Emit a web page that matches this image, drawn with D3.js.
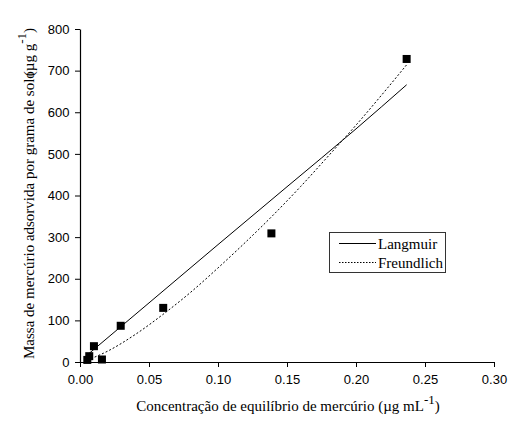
<!DOCTYPE html>
<html>
<head>
<meta charset="utf-8">
<script src="https://cdn.jsdelivr.net/npm/d3@7"></script>
<style>
  body { margin: 0; background: #fff; }
  svg { display: block; }
  .tick-label { font-family: "Liberation Sans", Arial, sans-serif; font-size: 13px; fill: #000; }
  .title { font-family: "Liberation Serif", "Times New Roman", serif; font-size: 15px; fill: #000; }
</style>
</head>
<body>
<svg id="chart" width="516" height="423"></svg>
<script>
// Measured isotherm points (concentration, adsorbed mass)
var concData = [0.0053, 0.0067, 0.0101, 0.0159, 0.0295, 0.0603, 0.1387, 0.2367];
var massData = [5, 14, 38, 6, 87, 130, 309, 728];

// Langmuir fit curve
var langmuirC = [0.0053, 0.05, 0.10, 0.15, 0.20, 0.2367];
var langmuirQ = [17, 142, 282, 421, 560, 666];

// Freundlich fit curve
var freundlichC = [0.0053, 0.02, 0.04, 0.06, 0.08, 0.10, 0.12, 0.14, 0.16, 0.18, 0.20, 0.22, 0.2367];
var freundlichQ = [4.5, 26, 66, 114, 167, 226, 288, 353, 422, 495, 569, 647, 714];

var xTicks = [0, 0.05, 0.10, 0.15, 0.20, 0.25, 0.30];
var yTicks = [0, 100, 200, 300, 400, 500, 600, 700, 800];

var svg = d3.select("#chart");

var x = d3.scaleLinear().domain([0, 0.30]).range([80, 494]);
var y = d3.scaleLinear().domain([0, 800]).range([362, 29]);

// Axes: major ticks labelled, minor ticks halfway between
var xMinor = d3.range(0.025, 0.30, 0.05);
var yMinor = d3.range(50, 800, 100);

var gx = svg.append("g").attr("transform", "translate(0," + y(0) + ")");
gx.call(d3.axisBottom(x).tickValues(xMinor).tickSize(3).tickFormat(""));
gx.call(d3.axisBottom(x).tickValues(xTicks).tickSize(5).tickSizeOuter(0).tickFormat(d3.format(".2f")));

var gy = svg.append("g").attr("transform", "translate(" + x(0) + ",0)");
gy.call(d3.axisLeft(y).tickValues(yMinor).tickSize(3).tickFormat(""));
gy.call(d3.axisLeft(y).tickValues(yTicks).tickSize(5).tickSizeOuter(0).tickFormat(d3.format("d")));

svg.selectAll(".domain").attr("stroke", "#000").attr("stroke-width", 1.2);
svg.selectAll(".tick line").attr("stroke", "#000");
svg.selectAll(".tick text").attr("class", "tick-label").attr("font-size", null).attr("font-family", null);
gx.selectAll(".tick text").attr("dy", "1.05em");
gy.selectAll(".tick text").attr("dx", "-0.2em");

// Fitted curves
var line = d3.line()
  .x(function (d) { return x(d[0]); })
  .y(function (d) { return y(d[1]); })
  .curve(d3.curveMonotoneX);

svg.append("path")
  .datum(d3.zip(langmuirC, langmuirQ))
  .attr("d", line)
  .attr("fill", "none")
  .attr("stroke", "#000")
  .attr("stroke-width", 1);

svg.append("path")
  .datum(d3.zip(freundlichC, freundlichQ))
  .attr("d", line)
  .attr("fill", "none")
  .attr("stroke", "#000")
  .attr("stroke-width", 1)
  .attr("stroke-dasharray", "2,2");

// Data points as filled squares
var sq = 8;
svg.append("g").selectAll("rect")
  .data(d3.zip(concData, massData))
  .join("rect")
  .attr("x", function (d) { return x(d[0]) - sq / 2; })
  .attr("y", function (d) { return y(d[1]) - sq / 2; })
  .attr("width", sq)
  .attr("height", sq)
  .attr("fill", "#000");

// Axis titles
var xt = svg.append("text")
  .attr("class", "title")
  .attr("x", 288)
  .attr("y", 411)
  .attr("text-anchor", "middle");
xt.append("tspan").text("Concentração de equilíbrio de mercúrio (µg mL");
xt.append("tspan").attr("dy", -7).attr("font-size", 13).text("-1");
xt.append("tspan").attr("dy", 7).text(")");

var yt = svg.append("text")
  .attr("class", "title")
  .attr("transform", "translate(34,359) rotate(-90)")
  .attr("text-anchor", "start");
yt.append("tspan").text("Massa de mercúrio adsorvida por grama de solo");
yt.append("tspan").attr("dx", -5).text("(µg g");
yt.append("tspan").attr("dy", -8).attr("font-size", 13).text("-1");
yt.append("tspan").attr("dy", 8).text(")");

// Legend
var legend = svg.append("g");
legend.append("rect")
  .attr("x", 329.5).attr("y", 232.5)
  .attr("width", 116).attr("height", 40)
  .attr("fill", "#fff")
  .attr("stroke", "#333")
  .attr("stroke-width", 1);

var legendItems = [
  { name: "Langmuir", dash: null },
  { name: "Freundlich", dash: "1.5,1.5" }
];
legendItems.forEach(function (d, i) {
  var ly = 243.5 + i * 19;
  legend.append("line")
    .attr("x1", 339).attr("x2", 376)
    .attr("y1", ly).attr("y2", ly)
    .attr("stroke", "#000")
    .attr("stroke-width", 1)
    .attr("stroke-dasharray", d.dash);
  legend.append("text")
    .attr("class", "title")
    .attr("x", 378)
    .attr("y", ly + 5)
    .text(d.name);
});
</script>
</body>
</html>
